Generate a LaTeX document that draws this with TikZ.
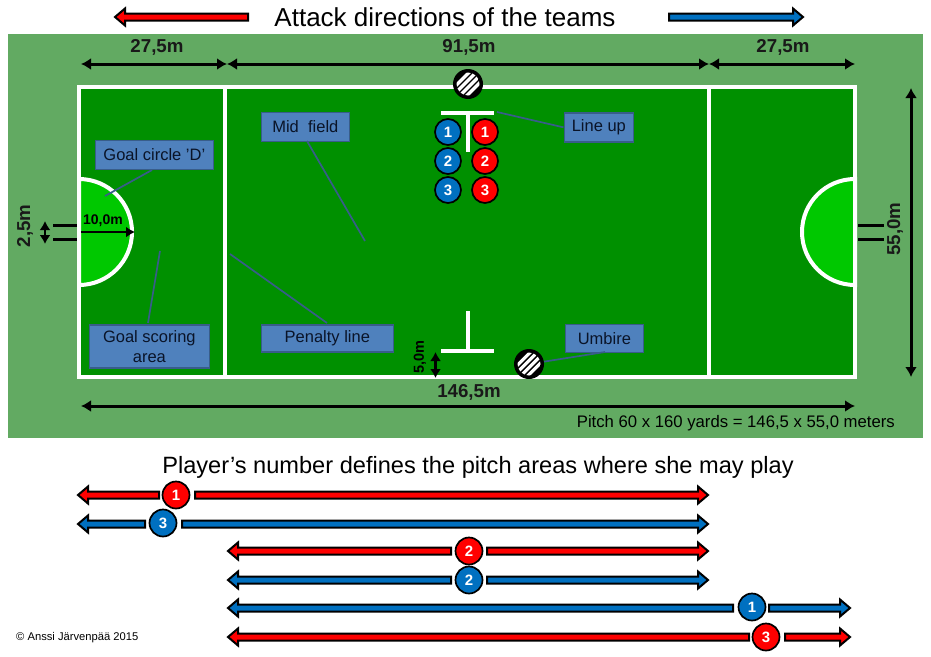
\documentclass[tikz,border=0pt]{standalone}
\usepackage{fontspec}
\setmainfont{Liberation Sans}
\usetikzlibrary{arrows.meta}
\definecolor{surround}{HTML}{62AA62}
\definecolor{pitch}{HTML}{009000}
\definecolor{dcircle}{HTML}{00C800}
\definecolor{tblue}{HTML}{0070C0}
\definecolor{tred}{HTML}{FF0000}
\definecolor{lblfill}{HTML}{4F81BD}
\definecolor{lbledge}{HTML}{385D8A}
\definecolor{lbltext}{HTML}{0A1428}
\tikzset{
  whiteline/.style={draw=white,line width=4pt,line cap=rect},
  dimline/.style={line width=3pt,{Latex[length=10pt,width=12pt]}-{Latex[length=10pt,width=12pt]}},
  dimtext/.style={font=\bfseries\fontsize{18.7}{20}\selectfont,text=black!90,inner sep=0pt},
  post/.style={line width=3pt,black},
  lbl/.style={draw=lbledge,fill=lblfill,line width=1.7pt,text=lbltext,font=\fontsize{16.5}{20}\selectfont,
     align=center,inner sep=0pt,anchor=north west},
  lead/.style={draw=lbledge,line width=1.7pt},
  player/.style={circle,draw=black,line width=1.7pt,minimum size=26pt,inner sep=0pt,text=white,
     font=\bfseries\fontsize{15}{15}\selectfont},
  barp/.style={draw=black,line width=2pt,miter limit=6},
}
% left-pointing piece with square far end: tip x, end x, y, colour
\newcommand{\pieceL}[4]{\path[barp,fill=#4] (#1,#3) -- (#1+10,#3-8.5) -- (#1+10,#3-3.5) -- (#2,#3-3.5) -- (#2,#3+3.5) -- (#1+10,#3+3.5) -- (#1+10,#3+8.5) -- cycle;}
\newcommand{\pieceR}[4]{\path[barp,fill=#4] (#1,#3) -- (#1-10,#3-8.5) -- (#1-10,#3-3.5) -- (#2,#3-3.5) -- (#2,#3+3.5) -- (#1-10,#3+3.5) -- (#1-10,#3+8.5) -- cycle;}
\newcommand{\umpmark}[3]{%
  \node[circle,fill=black,minimum size=30pt,inner sep=0pt] (#1) at (#2,#3) {};
  \begin{scope}
    \clip (#2,#3) circle (11.5);
    \foreach \d in {-10.5,-3.5,3.5,10.5}
      \draw[white,line width=3.2pt] (#2+\d-14,#3+14) -- (#2+\d+14,#3-14);
  \end{scope}}
\begin{document}
\begin{tikzpicture}[x=1pt,y=-1pt]
\useasboundingbox (0,0) rectangle (931,656);
\fill[white] (0,0) rectangle (931,656);
% title
\node[inner sep=0pt,font=\fontsize{26}{28}\selectfont] (title) at (445,17) {Attack directions of the teams};
\pieceL{115}{248}{17}{tred}
\pieceR{803}{669}{17}{tblue}
% surround
\fill[surround] (8,34) rectangle (923,438);
% pitch
\fill[pitch] (79,87) rectangle (855,377);
\draw[whiteline,fill=dcircle] (79,179) arc[start angle=-90,end angle=90,radius=53] -- cycle;
\draw[whiteline,fill=dcircle] (855,179) arc[start angle=-90,end angle=-270,radius=53] -- cycle;
\draw[whiteline] (79,87) rectangle (855,377);
\draw[whiteline] (225,87) -- (225,377);
\draw[whiteline] (709,87) -- (709,377);
% T marks
\draw[draw=white,line width=4pt] (441,112.5) -- (494,112.5);
\draw[draw=white,line width=4pt] (468,112.5) -- (468,152);
\draw[draw=white,line width=4pt] (441,351) -- (494,351);
\draw[draw=white,line width=4pt] (468,311) -- (468,351);
% dimensions
\coordinate (d1a) at (81,64); \coordinate (d1b) at (227,64); \coordinate (d2a) at (227,64);
\coordinate (d2b) at (709,64); \coordinate (d3a) at (709,64); \coordinate (d3b) at (855,64);
\draw[dimline] (d1a) -- (d1b);
\draw[dimline] (d2a) -- (d2b);
\draw[dimline] (d3a) -- (d3b);
\node[dimtext] (t1) at (157,47) {27,5m};
\node[dimtext] (t2) at (469,47) {91,5m};
\node[dimtext] (t3) at (783,47) {27,5m};
\coordinate (w1) at (81,406); \coordinate (w2) at (855,406);
\draw[dimline] (w1) -- (w2);
\node[dimtext] (t4) at (469,392) {146,5m};
\coordinate (h1) at (911,88); \coordinate (h2) at (911,377);
\draw[dimline] (h1) -- (h2);
\node[dimtext,rotate=90] (t5) at (895,229) {55,0m};
\coordinate (g1) at (45,221); \coordinate (g2) at (45,244);
\draw[line width=2.6pt,{Latex[length=9pt,width=11pt]}-{Latex[length=9pt,width=11pt]}] (g1) -- (g2);
\node[dimtext,rotate=90] (t6) at (25,226) {2,5m};
\coordinate (f1) at (435.5,352); \coordinate (f2) at (435.5,378);
\draw[line width=2.6pt,{Latex[length=9pt,width=11pt]}-{Latex[length=9pt,width=11pt]}] (f1) -- (f2);
\node[inner sep=0pt,rotate=90,font=\bfseries\fontsize{14.5}{14}\selectfont] (t7) at (420,357) {5,0m};
\coordinate (r1) at (81,232); \coordinate (r2) at (135,232);
\draw[line width=2.6pt,-{Latex[length=9pt,width=11pt]}] (r1) -- (r2);
\node[inner sep=0pt,font=\bfseries\fontsize{14}{14}\selectfont] (t8) at (103,221) {10,0m};
% goal posts
\draw[post] (53,225) -- (77,225);
\draw[post] (53,239) -- (77,239);
\draw[post] (858,225) -- (884,225);
\draw[post] (858,239) -- (884,239);
% umpires
\umpmark{ump1}{468}{84}
\umpmark{ump2}{529}{364}
% line-up players
\node[player,fill=tblue] (b1) at (448,132) {1};
\node[player,fill=tblue] (b2) at (448,161) {2};
\node[player,fill=tblue] (b3) at (448,190) {3};
\node[player,fill=tred] (r1p) at (485,132) {1};
\node[player,fill=tred] (r2p) at (485,161) {2};
\node[player,fill=tred] (r3p) at (485,190) {3};
% labels
\node[lbl,minimum width=88pt,minimum height=29pt] (lmid) at (260.5,111.5) {Mid\ \ field};
\node[lbl,minimum width=118pt,minimum height=29pt] (lgoal) at (94.5,139.5) {Goal circle ’D’};
\node[lbl,minimum width=120pt,minimum height=43pt] (lscore) at (88.5,324) {Goal scoring\\area};
\node[lbl,minimum width=132pt,minimum height=27pt] (lpen) at (260.5,324) {Penalty line};
\node[lbl,minimum width=69pt,minimum height=29pt] (lline) at (563.5,112) {Line up};
\node[lbl,minimum width=78pt,minimum height=28pt] (lump) at (564.5,323.5) {Umbire};
\coordinate (cmid) at (365,241);
\coordinate (cgoal) at (105,196);
\coordinate (cscore) at (160,251);
\coordinate (cpen) at (230,254);
\coordinate (cline) at (497,112);
\draw[lead] (307,141) -- (cmid);
\draw[lead] (152,170) -- (cgoal);
\draw[lead] (148,323) -- (cscore);
\draw[lead] (327,323) -- (cpen);
\draw[lead] (lline.west) -- (cline);
\draw[lead] (605,352) -- (ump2);
\node[anchor=east,inner sep=0pt,font=\fontsize{16.7}{18}\selectfont] (pitchtxt) at (895,423) {Pitch 60 x 160 yards = 146,5 x 55,0 meters};
% lower title
\node[inner sep=0pt,font=\fontsize{23.6}{26}\selectfont] (sub) at (478,467) {Player’s number defines the pitch areas where she may play};
% bars
\pieceL{78}{159}{495}{tred}   \pieceR{708}{195}{495}{tred}
\node[player,fill=tred,minimum size=27pt] (p1) at (176,495) {1};
\pieceL{78}{145}{524}{tblue}  \pieceR{708}{182}{524}{tblue}
\node[player,fill=tblue,minimum size=27pt] (p2) at (163,523) {3};
\pieceL{228}{451}{551}{tred}  \pieceR{708}{487}{551}{tred}
\node[player,fill=tred,minimum size=27pt] (p3) at (469,551) {2};
\pieceL{228}{451}{580}{tblue} \pieceR{708}{487}{580}{tblue}
\node[player,fill=tblue,minimum size=27pt] (p4) at (469,580) {2};
\pieceL{228}{733}{608}{tblue} \pieceR{850}{769}{608}{tblue}
\node[player,fill=tblue,minimum size=27pt] (p5) at (752,607) {1};
\pieceL{228}{749}{637}{tred}  \pieceR{850}{785}{637}{tred}
\node[player,fill=tred,minimum size=27pt] (p6) at (766,637) {3};
\node[anchor=west,inner sep=0pt,font=\fontsize{11.2}{12}\selectfont] (copy) at (16,638) {© Anssi Järvenpää 2015};
\end{tikzpicture}
\end{document}
